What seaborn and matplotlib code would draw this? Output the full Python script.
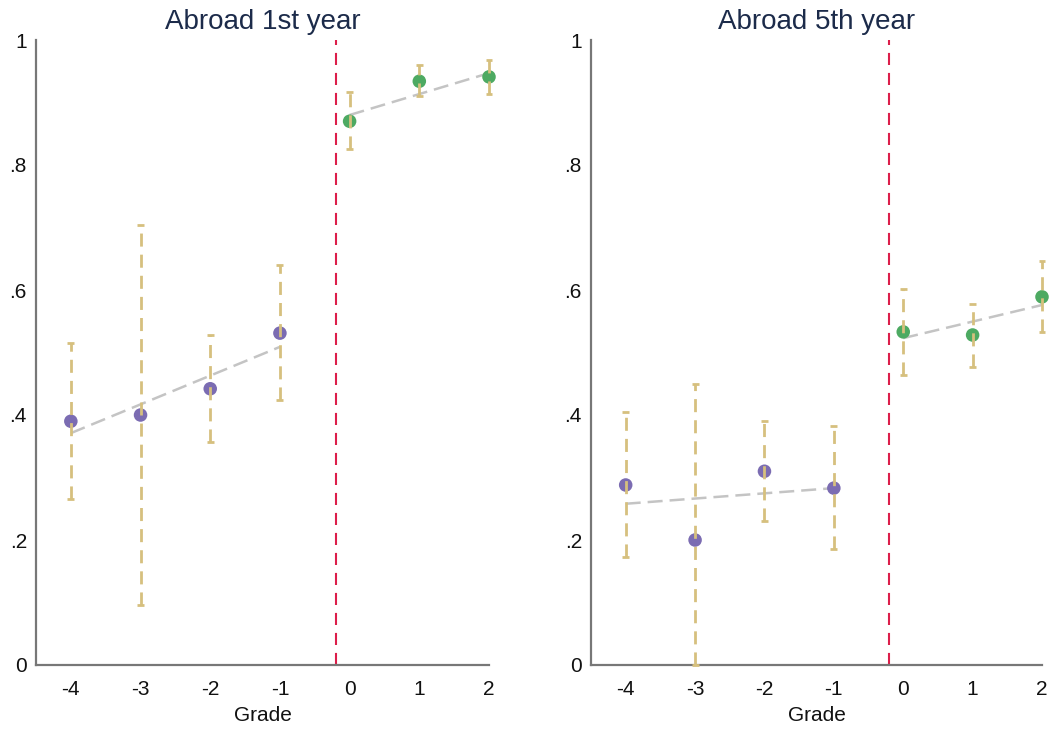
import numpy as np
import pandas as pd
import seaborn as sns
import matplotlib
matplotlib.use("Agg")
import matplotlib.pyplot as plt

sns.set_style("white")
plt.rcParams['font.family'] = ['Liberation Sans', 'DejaVu Sans']

grades = [-4, -3, -2, -1, 0, 1, 2]
titles = ["Abroad 1st year", "Abroad 5th year"]

# Panel 1: Abroad 1st year
y1 = [0.390, 0.400, 0.442, 0.531, 0.870, 0.934, 0.941]
lo1 = [0.266, 0.096, 0.357, 0.424, 0.826, 0.910, 0.914]
hi1 = [0.515, 0.704, 0.528, 0.640, 0.917, 0.960, 0.968]
fit_pre1 = [0.371, 0.509]   # at grade -4 and -1
fit_post1 = [0.880, 0.947]  # at grade 0 and 2

# Panel 2: Abroad 5th year
y2 = [0.288, 0.200, 0.310, 0.283, 0.533, 0.528, 0.589]
lo2 = [0.173, 0.000, 0.230, 0.186, 0.464, 0.477, 0.533]
hi2 = [0.405, 0.450, 0.390, 0.382, 0.601, 0.578, 0.646]
fit_pre2 = [0.258, 0.283]
fit_post2 = [0.523, 0.576]

cutoff = -0.2
yticks = [0, 0.2, 0.4, 0.6, 0.8, 1.0]
ytick_labels = ["0", ".2", ".4", ".6", ".8", "1"]

PURPLE = "#7B6CB2"
GREEN = "#4DAA62"
TAN = "#D6C07E"
GRAY = "#C4C4C4"
RED = "#DC1E4A"
NAVY = "#1C2B4A"

fig = plt.figure(figsize=(10.63, 7.32), dpi=100)
W, H = 1063, 732
positions = [
    [36 / W, (732 - 665) / H, (489 - 36) / W, 625 / H],
    [591 / W, (732 - 665) / H, (1042 - 591) / W, 625 / H],
]

panels = [
    (y1, lo1, hi1, fit_pre1, fit_post1),
    (y2, lo2, hi2, fit_pre2, fit_post2),
]

for pos, title, (y, lo, hi, fpre, fpost) in zip(positions, titles, panels):
    ax = fig.add_axes(pos)
    df = pd.DataFrame({"grade": grades, "y": y, "lo": lo, "hi": hi})
    df["side"] = np.where(df["grade"] < 0, "pre", "post")

    # fit lines
    fit_df = pd.DataFrame({"grade": [-4, -1, 0, 2],
                           "fit": [fpre[0], fpre[1], fpost[0], fpost[1]],
                           "side": ["pre", "pre", "post", "post"]})
    for side in ["pre", "post"]:
        sub = fit_df[fit_df["side"] == side]
        sns.lineplot(data=sub, x="grade", y="fit", ax=ax, color=GRAY, lw=1.8,
                     linestyle=(0, (6, 2.8)), zorder=3)

    # points
    sns.scatterplot(data=df, x="grade", y="y", hue="side",
                    palette={"pre": PURPLE, "post": GREEN}, s=95,
                    edgecolor="none", legend=False, ax=ax, zorder=4,
                    clip_on=False)

    # error bars (dashed, tan) drawn over the points
    for g, l, h in zip(df["grade"], df["lo"], df["hi"]):
        ax.plot([g, g], [l, h], color=TAN, lw=2, dashes=(4.7, 2.9), zorder=5,
                clip_on=False)
        for v in (l, h):
            ax.plot([g - 0.05, g + 0.05], [v, v], color=TAN, lw=2, zorder=5,
                    solid_capstyle="butt", clip_on=False)

    ax.axvline(cutoff, color=RED, lw=1.5, dashes=(5.8, 3.8), zorder=1)

    ax.set_xlim(-4.5, 2)
    ax.set_ylim(0, 1)
    ax.set_xticks(grades)
    ax.set_xticklabels([str(g) for g in grades])
    ax.set_yticks(yticks)
    ax.set_yticklabels(ytick_labels)
    ax.tick_params(axis="both", length=0, labelsize=15, colors="#111111")
    ax.tick_params(axis="x", pad=11)
    ax.tick_params(axis="y", pad=6.5)
    ax.set_xlabel("Grade", fontsize=15, color="#111111", labelpad=5)
    ax.set_ylabel("")
    ax.set_title(title, fontsize=20, color=NAVY, pad=8)
    for s in ["top", "right"]:
        ax.spines[s].set_visible(False)
    for s in ["left", "bottom"]:
        ax.spines[s].set_color("#777777")
        ax.spines[s].set_linewidth(1.6)
    ax.grid(False)

fig.savefig("out.png", dpi=100)
